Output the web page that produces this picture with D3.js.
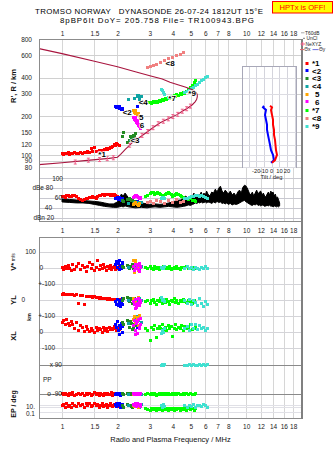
<!DOCTYPE html>
<html><head><meta charset="utf-8">
<script src="https://cdn.jsdelivr.net/npm/d3@7"></script>
<style>
html,body{margin:0;padding:0;background:#fff;}
svg{display:block;}
text{font-family:"Liberation Sans",Arial,sans-serif;}
</style></head><body>
<svg id="c" width="335" height="451"></svg>
<script>
// ---------------- DATA ----------------
const freqTicks = [1,1.5,2,3,4,5,6,7,8,10,12,14,16,18];
const freqTickLabels = ["1","1.5","2","3","4","5","6","7","8","10","12","14","16","18"];
const heightTicks = [800,600,400,300,200,150,120,100,90,80];
const dbTicks = [100,80,60,40,20];
const tiltTicks = [-20,-10,0,10,20];
const tiltGrid = [-30,-20,-10,0,10,20,30];

const groupLabels = ["*1","<2","<3","<4","5","6","*7","<8","*9"];
const groupColors = ["#ff0000","#0000ff","#228b22","#10a4a4","#ffa500","#ff00ff","#00ff00","#f08080","#40e0d0"];

// rows: [freq MHz, R' km, amplitude dB, V* m/s, YL km, XL km, PP deg, EP deg]
const echo1 = [
 [1.00,102,63,5,35,60,-88,12],[1.02,101,64,-10,38,72,-95,14],[1.04,103,62,12,34,45,-84,10],
 [1.06,102,65,-5,36,80,-92,15],[1.08,104,66,18,33,55,-100,11],[1.10,101,64,0,37,38,-86,13],
 [1.12,103,63,-18,32,66,-94,9],[1.14,102,65,25,35,50,-82,15],[1.17,104,66,-8,30,20,-98,13],
 [1.20,103,64,8,34,58,-90,11],[1.23,102,60,30,-20,10,-85,15],[1.26,104,57,-12,31,42,-96,12],
 [1.29,103,55,15,26,28,-88,14],[1.32,105,56,2,-28,5,-102,10],[1.35,104,58,-22,24,35,-84,15],
 [1.38,106,60,10,22,18,-93,12],[1.41,105,62,35,25,2,-87,16],[1.44,113,61,-6,20,25,-99,11],
 [1.47,106,63,20,18,12,-91,13],[1.50,114,62,-15,21,-5,-83,15],[1.53,107,60,6,15,30,-95,12],
 [1.56,106,63,45,17,8,-89,14],[1.59,108,65,-10,12,20,-97,10],[1.62,107,66,14,14,15,-86,13],
 [1.65,109,67,-4,10,0,-92,15],[1.68,108,68,22,12,28,-100,11],[1.71,110,66,3,8,10,-88,12],
 [1.74,112,67,-14,9,22,-94,14],[1.77,111,68,9,6,5,-85,10],[1.80,113,67,-2,7,30,-96,13],
 [1.83,115,66,16,5,14,-90,15],[1.86,114,68,-8,6,25,-83,12],[1.89,117,65,4,4,18,-98,11],
 [1.92,121,67,12,5,32,-87,14],[1.95,119,66,-12,3,20,-93,12],[1.98,122,64,6,4,12,-89,15],
 [2.01,120,63,-3,2,28,-95,13],[2.04,118,62,10,3,15,-86,11]
];
const echo2 = [
 [1.94,238,58,20,-10,50,-90,14],[1.97,236,60,40,-25,30,-85,11],[2.00,240,62,5,5,65,-95,15],
 [2.02,234,56,30,-35,10,-88,12],[2.04,237,59,-8,-15,40,-92,13],[2.06,230,61,45,-5,-15,-84,15],
 [2.08,232,57,15,-40,20,-97,10],[2.10,226,55,0,-20,55,-90,12],[2.12,228,60,25,8,0,-86,14],
 [2.14,224,58,35,-30,35,-94,11],[2.58,238,52,10,-10,30,-90,12]
];
const echo3 = [
 [2.13,140,54,12,-5,60,-88,12],[2.15,149,52,5,10,45,-92,10],[2.26,126,56,18,15,70,-85,14],
 [2.32,130,58,0,-10,30,-95,12],[2.38,136,55,10,5,55,-90,11],[2.44,142,53,-5,-15,20,-86,13],
 [2.50,148,50,20,0,40,-93,14],[2.34,140,57,8,12,65,-89,12],[2.40,131,54,25,-20,15,-96,10],
 [2.46,138,52,2,8,50,-87,14]
];
const echo4 = [
 [2.30,270,48,5,0,55,-90,12],[2.49,275,50,10,-10,80,-88,14],[2.56,285,49,-5,5,95,-94,11],
 [2.60,290,51,15,-20,70,-86,13],[2.65,280,47,0,10,85,-92,12],[2.70,286,50,8,-5,60,-90,14],
 [2.62,270,48,-10,-15,90,-85,10],[2.58,292,46,20,0,75,-95,12]
];
const echo5 = [
 [2.43,222,46,45,10,80,-90,12],[2.47,214,48,-25,-5,100,-86,11],[2.52,210,50,30,5,60,-94,13],
 [2.56,205,47,10,-20,90,-88,14],[2.60,212,45,-15,15,40,-92,10],[2.50,220,49,50,-10,70,-85,12],
 [2.62,200,48,5,0,105,-90,14]
];
const echo6 = [
 [2.45,196,62,10,-10,40,-88,14],[2.48,190,64,-15,-30,70,-92,12],[2.52,186,66,25,5,10,-85,15],
 [2.55,180,65,0,-45,55,-95,11],[2.58,176,63,15,-20,-10,-90,13],[2.60,170,61,-10,10,80,-87,12],
 [2.63,166,60,30,-35,25,-93,14],[2.66,162,62,5,-5,45,-89,11],[2.50,194,65,-5,-50,-15,-96,13],
 [2.56,184,64,20,-25,65,-84,15],[2.62,172,62,-20,0,30,-91,12],[2.68,165,60,10,-15,85,-88,14]
];
const echo7 = [
 [2.83,250,64,5,-10,20,-90,8],[2.90,255,66,-5,0,10,-85,6],[3.01,255,70,8,-20,-50,-95,5],
 [3.06,250,72,0,-5,30,-88,7],[3.12,259,71,-8,5,15,-92,6],[3.18,254,68,10,-15,40,-86,8],
 [3.24,259,70,-3,-25,-35,-97,5],[3.30,256,72,5,0,25,-90,7],[3.37,264,69,-10,-10,35,-84,6],
 [3.43,260,67,6,10,20,-93,8],[3.50,268,65,0,-20,45,-89,5],[3.56,266,66,12,-5,15,-95,7],
 [3.63,274,68,-6,-15,30,-86,6],[3.70,272,70,4,5,10,-91,8],[3.77,279,71,-2,-10,40,-88,5],
 [3.84,275,69,8,-25,25,-94,7],[3.91,284,67,-12,0,35,-90,6],[3.98,282,64,0,-10,-30,-85,8],
 [4.06,289,66,5,8,20,-96,5],[4.14,287,68,-5,-15,45,-89,7],[4.21,294,70,10,-5,15,-92,6],
 [4.30,292,67,0,-20,30,-87,8],[4.38,299,65,-8,0,25,-94,5],[4.46,297,63,6,-12,40,-90,7],
 [4.54,305,62,2,5,10,-86,6],[4.64,302,60,-4,-8,35,-93,8],[4.72,310,58,8,-18,20,-89,5],
 [4.84,322,56,0,0,30,-91,7],[4.96,333,58,-6,-10,45,-88,6],[5.09,346,55,4,-22,15,-94,8],
 [5.22,365,54,0,-5,25,-90,5],[5.28,378,52,5,-15,35,-87,7]
];
const echo8 = [
 [2.90,478,50],[3.01,487,53],[3.12,496,48],[3.24,505,55],[3.41,524,52],[3.58,542,49],
 [3.77,563,54],[3.96,574,51],[4.16,594,56],[4.38,603,50],[4.54,626,53]
];
const echo9 = [
 [3.48,325,60,5,15,-10,88,12],[3.52,315,62,0,-5,10,95,10],[3.55,305,61,-5,5,0,85,14],
 [3.58,298,59,10,-10,20,92,11],[4.60,305,58,0,-5,20,90,12],[4.78,310,60,8,-20,35,86,10],
 [4.90,316,62,-5,5,10,94,13],[5.03,327,64,3,-25,45,88,11],[5.15,333,63,-8,0,25,92,14],
 [5.28,346,65,5,-15,50,85,10],[5.41,352,66,0,-35,15,90,12],[5.55,365,64,-10,10,40,95,13],
 [5.69,378,65,6,-20,20,87,11],[5.84,385,63,-3,-40,30,91,14],[5.98,400,62,8,-10,10,89,12],
 [6.14,407,60,0,-25,25,93,10]
];
const echoGroups = [echo1,echo2,echo3,echo4,echo5,echo6,echo7,echo8,echo9];
// label anchor positions [freq, R']
const markerPos = [[1.65,102],[2.26,216],[2.49,131],[2.76,259],[2.69,198],[2.72,172],[3.96,279],[3.86,524],[5.09,305]];

// model profile (virtual height trace)
const profF = [0.75,1.0,1.5,2.0,2.5,3.0,3.5,3.86,4.3,4.66,5.0,5.2,5.35,5.42,5.43,5.38,5.28,5.1,4.84,4.5,4.21,3.8,3.41,3.1,2.86,2.6,2.4,2.2,2.08,2.0,1.8,1.42,1.0,0.75];
const profR = [673,615,537,487,445,414,390,368,350,338,326,318,306,296,284,270,259,246,233,219,206,192,178,162,149,135,124,110,101,96,94,91,87,84];
// NeXYZ markers
const nexF = [1.18,1.39,1.6,1.76,1.9,2.33,2.52,2.72,2.92,3.12,3.33,3.55,3.78,4.0,4.25,4.5,4.75,4.98];
const nexR = [88,91,92,93.5,95,119,131,142,152,163,175,183,191,199,207,219,229,240];

// tilt inset
const tiltR = [241,235,224,205,188,172,157,143,131,120,109,100,91,87];
const tiltX = [-2.2,0.4,-0.9,0.4,1.7,1.7,3,3,4.3,4.9,5.6,6.9,4.3,0.4];
const tiltY = [-10,-11.3,-7.4,-8.7,-7.4,-6.1,-6.1,-4.8,-3.5,-2.2,-0.9,1.7,3,-0.9];

// noise band (black)
const noiseF  = [1.0,1.1,1.2,1.3,1.4,1.5,1.6,1.7,1.8,1.9,2.0,2.05,2.1,2.15,2.2,2.3,2.4,2.5,2.7,2.9,3.0,3.2,3.4,3.6,3.8,4.0,4.2,
  4.4,4.55,4.7,4.85,5.0,5.1,5.2,5.3,5.4,5.5,5.6,5.7,5.8,5.9,6.0,6.1,6.2,6.35,6.5,6.65,6.8,6.95,7.1,7.25,7.4,7.55,7.7,7.85,8.0,
  8.2,8.4,8.6,8.8,9.0,9.2,9.4,9.6,9.8,10.0,10.2,10.4,10.6,10.8,11.0,11.2,11.4,11.6,11.8,12.0,12.2,12.4,12.6,12.8,13.0,13.2,13.4,
  13.6,13.8,14.0,14.2,14.4,14.6,14.8,15.0,15.2];
const noiseLo = [52,51,50,50,49,47,45,43,42,41,41,42,43,42,44,42,41,40,41,40,41,42,41,42,43,42,41,
  42,43,44,46,45,47,48,50,49,51,50,52,50,51,52,50,52,51,49,52,50,53,51,52,49,50,48,50,47,
  49,46,48,47,48,50,52,54,55,52,50,48,46,45,47,46,48,45,46,44,46,45,43,44,45,44,46,
  43,44,42,44,43,42,43,42,44];
const noiseHi = [58,57,56,55,54,53,52,50,48,48,52,60,68,64,70,60,56,54,50,48,47,48,47,48,50,52,55,
  56,60,64,58,66,62,70,64,68,60,66,72,64,70,66,74,68,64,72,70,78,72,80,84,74,70,76,72,68,
  74,66,70,64,72,76,70,82,86,84,78,70,66,72,64,70,76,68,72,74,66,70,64,62,68,72,66,
  74,70,72,64,68,60,62,56,50];

(function(){
// ---------------- SCALES ----------------
const svg = d3.select("#c");
const x  = d3.scaleLog().domain([0.75,20.1]).range([39,302]);
const yR = d3.scaleLog().domain([800,73.6]).range([39,172]);
const yDB = d3.scaleLinear().domain([20,100]).range([217.7,178.3]);
const yV  = d3.scaleLinear().domain([-100,100]).range([284,252]);
const yYL = d3.scaleLinear().domain([-100,100]).range([316,284]);
const yXL = d3.scaleLinear().domain([-100,100]).range([348,316]);
const yPP = d3.scaleLinear().domain([-90,90]).range([394,365]);
const yEP = d3.scaleLinear().domain([0.1,10]).range([413,407]);
const xT  = d3.scaleLinear().domain([-38.6,32.9]).range([242,297]);
const lowScales = [yV,yYL,yXL,yPP,yEP];
const px = v => Math.round(v)+0.5;

const defs = svg.append("defs");
defs.append("clipPath").attr("id","clipTop").append("rect").attr("x",39).attr("y",39).attr("width",263).attr("height",183);
defs.append("clipPath").attr("id","clipBot").append("rect").attr("x",39).attr("y",237).attr("width",263).attr("height",182);

// ---------------- GRID ----------------
const grid = svg.append("g").attr("shape-rendering","crispEdges");
[[39,222],[237,419]].forEach(([a,b])=>{
  grid.append("g").selectAll("line").data(freqTicks).join("line")
    .attr("x1",d=>px(x(d))).attr("x2",d=>px(x(d))).attr("y1",a).attr("y2",b)
    .attr("stroke","#d6d6d6").attr("stroke-width",1);
});
grid.append("g").selectAll("line").data(heightTicks.slice(1)).join("line")
  .attr("x1",39).attr("x2",302).attr("y1",d=>px(yR(d))).attr("y2",d=>px(yR(d)))
  .attr("stroke","#d0d0d0");
grid.append("g").selectAll("line").data(dbTicks).join("line")
  .attr("x1",39).attr("x2",302).attr("y1",d=>px(yDB(d))).attr("y2",d=>px(yDB(d)))
  .attr("stroke","#c8c8d0");
const lowLines = [yV(100),yV(0),yV(-100),yYL(0),yYL(-100),yXL(0),yXL(-100)];
grid.append("g").selectAll("line").data(lowLines).join("line")
  .attr("x1",39).attr("x2",302).attr("y1",d=>px(d)).attr("y2",d=>px(d))
  .attr("stroke","#d4d4d8");
grid.append("g").selectAll("line").data([yPP(90),yPP(-90)]).join("line")
  .attr("x1",39).attr("x2",302).attr("y1",d=>px(d)).attr("y2",d=>px(d))
  .attr("stroke","#8a8a8a");
grid.append("g").selectAll("line").data([yEP(13),yEP(10),yEP(2)]).join("line")
  .attr("x1",39).attr("x2",302).attr("y1",d=>px(d)).attr("y2",d=>px(d))
  .attr("stroke","#e0e0e6");

// ---------------- NOISE BAND ----------------
const topG = svg.append("g").attr("clip-path","url(#clipTop)");
const noise = noiseF.map((f,i)=>[f,noiseLo[i],noiseHi[i]]);
topG.append("path").datum(noise)
  .attr("d",d3.area().x(d=>x(d[0])).y0(d=>yDB(d[1])).y1(d=>yDB(d[2])))
  .attr("fill","#000").attr("stroke","#000").attr("stroke-width",1);

// ---------------- ECHOES ----------------
echoGroups.forEach((grp,gi)=>{
  const col = groupColors[gi];
  const gg = topG.append("g").attr("fill",col).attr("shape-rendering","crispEdges");
  gg.selectAll("rect.h").data(grp).join("rect").attr("class","h")
    .attr("x",d=>Math.round(x(d[0])-1.5)).attr("y",d=>Math.round(yR(d[1])-1.5))
    .attr("width",3).attr("height",3);
  gg.selectAll("rect.a").data(grp).join("rect").attr("class","a")
    .attr("x",d=>Math.round(x(d[0])-1.5)).attr("y",d=>Math.round(yDB(d[2])-1.5))
    .attr("width",3).attr("height",3);
});

// model profile
topG.append("path").datum(profF.map((f,i)=>[f,profR[i]]))
  .attr("d",d3.line().x(d=>x(d[0])).y(d=>yR(d[1])))
  .attr("fill","none").attr("stroke","#a8143e").attr("stroke-width",1.1);
topG.append("g").selectAll("path").data(nexF.map((f,i)=>[f,nexR[i]])).join("path")
  .attr("transform",d=>`translate(${x(d[0])},${yR(d[1])})`)
  .attr("d","M-1.5,-2H1.5M0,-2V2M-1.5,2H1.5")
  .attr("stroke","#f0608a").attr("stroke-width",1).attr("fill","none");

// echo markers
svg.append("g").selectAll("text").data(markerPos).join("text")
  .attr("x",d=>x(d[0])).attr("y",d=>yR(d[1])+3)
  .attr("text-anchor","middle").attr("font-size",8).attr("font-weight","bold")
  .attr("fill","#000").attr("stroke","#fff").attr("stroke-width",1.6)
  .attr("paint-order","stroke")
  .text((d,i)=>groupLabels[i]);

// ---------------- LOWER PANEL POINTS ----------------
const bot = svg.append("g").attr("clip-path","url(#clipBot)");
echoGroups.forEach((grp,gi)=>{
  const rows = grp.filter(r=>r.length>3);
  if(!rows.length) return;
  const gg = bot.append("g").attr("fill",groupColors[gi]).attr("shape-rendering","crispEdges");
  lowScales.forEach((sc,k)=>{
    gg.append("g").selectAll("rect").data(rows).join("rect")
      .attr("x",d=>Math.round(x(d[0])-1.5)).attr("y",d=>Math.round(sc(d[3+k])-1.5))
      .attr("width",3).attr("height",3);
  });
});

// ---------------- FRAMES ----------------
const fr = svg.append("g").attr("fill","none").attr("stroke","#8c8c8c").attr("shape-rendering","crispEdges");
fr.append("rect").attr("x",39.5).attr("y",39.5).attr("width",262).attr("height",182);
fr.append("rect").attr("x",39.5).attr("y",237.5).attr("width",262).attr("height",181);
fr.append("line").attr("x1",302).attr("x2",302).attr("y1",39).attr("y2",419).attr("stroke-width",1.5).attr("stroke","#808080");

// ---------------- TILT INSET ----------------
const ins = svg.append("g");
ins.append("rect").attr("x",242.5).attr("y",66.5).attr("width",54).attr("height",101)
  .attr("fill","#fff").attr("stroke","#a8a8b8");
ins.append("g").attr("shape-rendering","crispEdges").selectAll("line").data(tiltGrid).join("line")
  .attr("x1",d=>px(xT(d))).attr("x2",d=>px(xT(d))).attr("y1",67).attr("y2",167)
  .attr("stroke","#d4d4dc");
ins.append("g").attr("shape-rendering","crispEdges").selectAll("line").data(heightTicks.filter(h=>h<=450)).join("line")
  .attr("x1",243).attr("x2",296).attr("y1",d=>px(yR(d))).attr("y2",d=>px(yR(d)))
  .attr("stroke","#dcdce2");
ins.append("path").datum(tiltR.map((r,i)=>[tiltY[i],r]))
  .attr("d",d3.line().x(d=>xT(d[0])).y(d=>yR(d[1])))
  .attr("fill","none").attr("stroke","#0000ff").attr("stroke-width",2);
ins.append("path").datum(tiltR.map((r,i)=>[tiltX[i],r]))
  .attr("d",d3.line().x(d=>xT(d[0])).y(d=>yR(d[1])))
  .attr("fill","none").attr("stroke","#ff0000").attr("stroke-width",2);
ins.append("g").selectAll("text").data(tiltTicks).join("text")
  .attr("x",d=>xT(d)).attr("y",172.5).attr("text-anchor","middle")
  .attr("font-size",5.8).attr("fill","#222").text(d=>d);
ins.append("text").attr("x",271.5).attr("y",178.5).attr("text-anchor","middle")
  .attr("font-size",5.8).attr("fill","#222").text("Tilt / deg");

// ---------------- AXES ----------------
function styleAxis(g){
  g.select(".domain").remove();
  g.selectAll("text").attr("font-size",6.5).attr("fill","#222")
    .attr("font-family","'Liberation Sans',Arial,sans-serif");
  g.attr("font-size",null).attr("font-family",null);
}
[35.7,232.6,428.6].forEach(yy=>{
  svg.append("g").attr("transform",`translate(0,${yy})`)
    .call(d3.axisTop(x).tickValues(freqTicks).tickFormat((d,i)=>freqTickLabels[i]).tickSize(0).tickPadding(0))
    .call(styleAxis);
});
svg.append("g").attr("transform","translate(32,0)")
  .call(d3.axisLeft(yR).tickValues(heightTicks).tickFormat(d3.format("d")).tickSize(0).tickPadding(0))
  .call(styleAxis);

// dB labels
const lab = (t,xx,yy,anchor,fs)=>svg.append("text").attr("x",xx).attr("y",yy)
  .attr("text-anchor",anchor||"end").attr("font-size",fs||6.5).attr("fill","#222").text(t);
lab("100",63,yDB(100)+2.2);
lab("dBe 80",53,yDB(80)+2.2);
lab("60",62,yDB(60)+2.2);
lab("40",52,yDB(40)+2.2);
lab("dBn 20",54,yDB(20)+2.2);
// lower labels
lab("100",36,yV(100)+2.2);
lab("0",43,yV(0)+2.2);
lab("+-100",55,yV(-100)+2.2);
lab("0",25,yYL(0)+2.2);
lab("+-100",55,yYL(-100)+2.2);
lab("0",43,yXL(0)+2.2);
lab("-100",55,yXL(-100)+2.2);
lab("x 90",62,yPP(90)+2.2);
lab("PP",43,381.5,"start");
lab("o -90",62,yPP(-90)+2.2);
lab("10.",35,yEP(10)+1.5);
lab("0.1",35,yEP(0.1)+3);

// rotated axis titles
const rot = (t,xx,yy,fs)=>svg.append("text").attr("transform",`translate(${xx},${yy}) rotate(-90)`)
  .attr("text-anchor","middle").attr("font-size",fs||7.5).attr("font-weight","bold").attr("fill","#111").text(t);
rot("R', R / km",16,86);
const vt = svg.append("text").attr("transform","translate(16,262) rotate(-90)")
  .attr("text-anchor","middle").attr("font-size",7.5).attr("font-weight","bold").attr("fill","#111");
vt.append("tspan").text("V*");
vt.append("tspan").attr("font-size",5).attr("font-weight","normal").attr("dx",1.5).attr("dy",-1).text("m/s");
rot("YL",16,300);
rot("XL",16,336);
rot("km",31,317,5.5);
rot("EP / deg",16,404,7);
svg.append("text").attr("x",170.5).attr("y",441.5).attr("text-anchor","middle")
  .attr("font-size",7.5).attr("fill","#111").text("Radio and Plasma Frequency / MHz");

// ---------------- TITLE ----------------
svg.append("text").attr("x",35).attr("y",14.2).attr("font-family","'Liberation Mono',monospace")
  .attr("font-size",7.9).attr("fill","#000").attr("textLength",228).attr("lengthAdjust","spacing")
  .style("white-space","pre").text("TROMSO NORWAY   DYNASONDE 26-07-24 1812UT 15°E");
svg.append("text").attr("x",60).attr("y",23.4).attr("font-family","'Liberation Mono',monospace")
  .attr("font-size",7.9).attr("fill","#000").attr("textLength",194).attr("lengthAdjust","spacing")
  .style("white-space","pre").text("8pBP6It DoY= 205.758 File= TR100943.BPG");
svg.append("rect").attr("x",272.5).attr("y",1.5).attr("width",60).attr("height",11.5)
  .attr("fill","#ffff00").attr("stroke","#ff0000");
svg.append("text").attr("x",302.5).attr("y",10.2).attr("text-anchor","middle")
  .attr("font-family","'Liberation Mono',monospace").attr("font-size",7.6)
  .attr("fill","#ff0000").text("HPTx is OFF!");

// ---------------- LEGEND ----------------
const lg = svg.append("g").attr("font-size",4.9).attr("fill","#222");
lg.append("line").attr("x1",301).attr("x2",304.5).attr("y1",32.8).attr("y2",32.8).attr("stroke","#aaa");
lg.append("text").attr("x",305).attr("y",34.6).text("T60dB");
lg.append("rect").attr("x",303.5).attr("y",37.8).attr("width",1).attr("height",1).attr("fill","#000");
lg.append("text").attr("x",306.5).attr("y",40.2).text("UnCl");
lg.append("path").attr("d","M300.5,44H305M302.7,42V46").attr("stroke","#f0608a");
lg.append("text").attr("x",305.5).attr("y",45.8).text("NeXYZ");
lg.append("line").attr("x1",300).attr("x2",304).attr("y1",49.6).attr("y2",49.6).attr("stroke","#e06070");
lg.append("text").attr("x",304.3).attr("y",51.4).text("Θx");
lg.append("line").attr("x1",312.5).attr("x2",318.5).attr("y1",49.6).attr("y2",49.6).attr("stroke","#7070e0");
lg.append("text").attr("x",319).attr("y",51.4).text("Θy");
const legY = [63.3,70.8,78.3,86,94,101.7,110,118.3,126.5];
const lr = svg.append("g");
lr.selectAll("rect").data(groupColors).join("rect")
  .attr("x",305.5).attr("y",(d,i)=>Math.round(legY[i]-1.5)).attr("width",3).attr("height",3)
  .attr("fill",d=>d);
lr.selectAll("text").data(groupLabels).join("text")
  .attr("x",(d,i)=>d.length>1?312:315).attr("y",(d,i)=>legY[i]+2.8)
  .attr("font-size",8).attr("font-weight","bold").attr("fill","#000").text(d=>d);
})();
</script>
</body></html>
